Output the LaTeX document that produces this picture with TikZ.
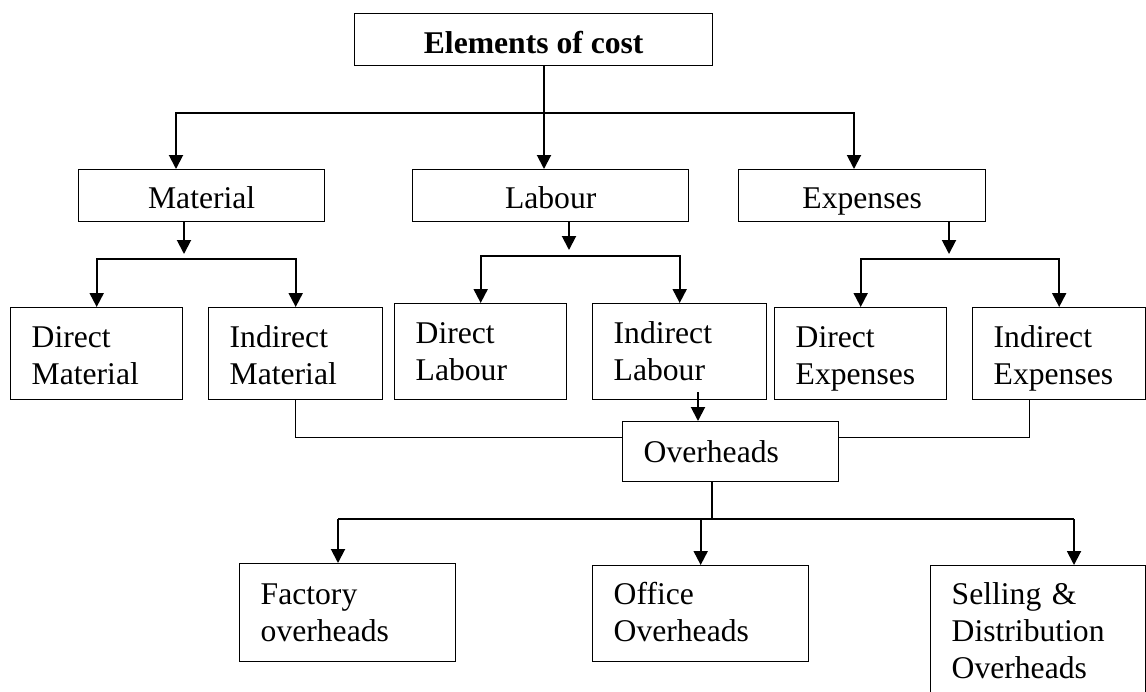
\documentclass[tikz,border=0pt]{standalone}
\usepackage{fontspec}
\setmainfont{Liberation Serif}
\usetikzlibrary{arrows.meta,positioning}

\begin{document}
\begin{tikzpicture}[x=0.02cm,y=-0.02cm,>={Triangle[width=0.28cm,length=0.28cm]},
		font=\fontsize{18}{21}\selectfont,
		box/.style={draw,line width=0.8pt,anchor=north west,inner xsep=0pt,inner ysep=0pt,align=center,text height=0.78cm,text depth=0.26cm},
		sub/.style={draw,line width=0.8pt,anchor=north west,inner xsep=0.42cm,inner ysep=0pt,align=left,text width=2.6cm,text height=0.8cm,text depth=1.04cm},
		arr/.style={->,line width=1.1pt},
		plain/.style={line width=0.6pt}]
	\useasboundingbox (0,0) rectangle (1146,691);
	% boxes
	\node[box,minimum width=7.16cm,text height=0.8cm,text depth=0.24cm,font=\fontsize{18}{21}\selectfont\bfseries] (cost) at (354,13) {Elements of cost};
	\node[box,minimum width=4.92cm] (mat) at (78,169) {Material};
	\node[box,minimum width=5.52cm] (lab) at (412,169) {Labour};
	\node[box,minimum width=4.94cm] (exp) at (738,169) {Expenses};
	\node[sub] (dmat) at (10,307) {Direct\\Material};
	\node[sub,text width=2.64cm] (imat) at (208,307) {Indirect\\Material};
	\node[sub,text depth=1.12cm] (dlab) at (394,303) {Direct\\Labour};
	\node[sub,text width=2.64cm,text depth=1.12cm] (ilab) at (592,303) {Indirect\\Labour};
	\node[sub] (dexp) at (774,307) {Direct\\Expenses};
	\node[sub,text width=2.62cm] (iexp) at (972,307) {Indirect\\Expenses};
	\node[sub,text width=3.48cm,text height=0.82cm,text depth=0.38cm] (ovh) at (622,421) {Overheads};
	\node[sub,text width=3.48cm,text height=0.82cm,text depth=1.14cm] (fac) at (239,563) {Factory\\overheads};
	\node[sub,text width=3.48cm,text height=0.78cm,text depth=1.14cm] (off) at (592,565) {Office\\Overheads};
	\node[sub,text width=3.46cm,text height=0.78cm,text depth=2.4cm] (sel) at (930,565) {Selling \&\\Distribution\\Overheads};
	% top split
	\coordinate (top) at (544,113);
	\coordinate (topl) at (176,113);
	\coordinate (topr) at (854,113);
	\draw[arr] (top |- cost.south) -- (top |- lab.north);
	\draw[arr] (top) -- (topl) -- (topl |- mat.north);
	\draw[arr] (top) -- (topr) -- (topr |- exp.north);
	% second split
	\coordinate (matd) at (184,254);
	\coordinate (matb) at (184,259);
	\coordinate (labd) at (569,250);
	\coordinate (labb) at (569,256);
	\coordinate (expd) at (949,254);
	\coordinate (expb) at (949,259);
	\draw[arr] (matd |- mat.south) -- (matd);
	\draw[arr] (labd |- lab.south) -- (labd);
	\draw[arr] (expd |- exp.south) -- (expd);
	\draw[arr,<->] (dmat.north) |- (matb) -| (imat.north);
	\draw[arr,<->] (dlab.north) |- (labb) -| (ilab.north);
	\draw[arr,<->] (dexp.north) |- (expb) -| (iexp.north);
	% into overheads
	\coordinate (ilabd) at (698,392);
	\draw[arr] (ilabd) -- (ilabd |- ovh.north);
	\draw[plain] (imat.south) |- ([yshift=0.28cm]ovh.west);
	\draw[plain] ([xshift=-0.6cm]iexp.south) |- ([yshift=0.28cm]ovh.east);
	% overheads split
	\coordinate (ovhb) at (712,519);
	\coordinate (busl) at (338,519);
	\coordinate (busr) at (1074,519);
	\draw[plain] (ovhb |- ovh.south) -- (ovhb);
	\draw[plain] (busl) -- (busr);
	\draw[arr] (busl) -- (busl |- fac.north);
	\draw[arr] (off.north |- ovhb) -- (off.north);
	\draw[arr] (busr) -- (busr |- sel.north);
\end{tikzpicture}
\end{document}
